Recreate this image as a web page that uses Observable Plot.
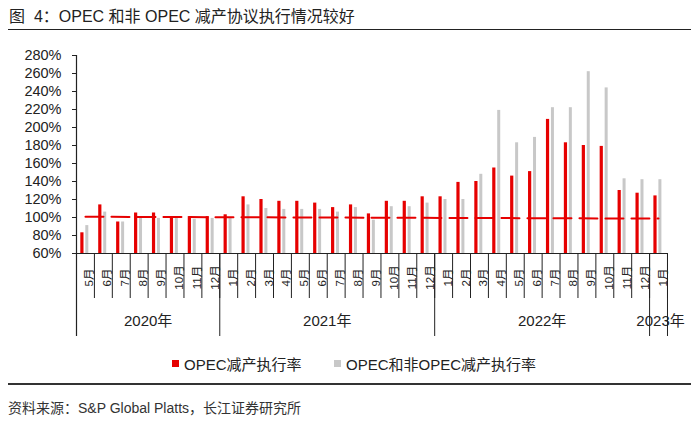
<!DOCTYPE html>
<html><head><meta charset="utf-8">
<script src="https://cdn.jsdelivr.net/npm/d3@7"></script>
<script src="https://cdn.jsdelivr.net/npm/@observablehq/plot@0.6"></script>
<style>
body{margin:0;background:#fff;font-family:"Liberation Sans",Arial,"Noto Sans CJK SC",sans-serif;color:#222;}
#wrap{position:relative;width:693px;height:426px;overflow:hidden;}
#title{position:absolute;left:9px;top:7px;font-size:16px;line-height:20px;white-space:nowrap;}
#tline{position:absolute;left:8px;top:29px;width:683px;border-top:1.5px solid #222;}
#chart{position:absolute;left:0;top:40px;}
#legend{position:absolute;top:354px;left:0;width:693px;height:18px;font-size:15px;}
.item{position:absolute;top:0;display:flex;align-items:center;height:18px;white-space:nowrap;}
.sw{width:7px;height:7px;margin-right:5px;}
#rule{position:absolute;left:8px;top:383px;width:683px;border-top:2px solid #333;}
#source{position:absolute;left:8px;top:399px;font-size:14px;line-height:18px;color:#333;white-space:nowrap;}
</style></head>
<body>
<div id="wrap">
  <div id="title">图&nbsp;&nbsp;4：OPEC 和非 OPEC 减产协议执行情况较好</div>
  <div id="tline"></div>
  <div id="chart"></div>
  <div id="legend">
    <div class="item" style="left:172px"><div class="sw" style="background:#e60000"></div>OPEC减产执行率</div>
    <div class="item" style="left:334px"><div class="sw" style="background:#c8c8c8"></div>OPEC和非OPEC减产执行率</div>
  </div>
  <div id="rule"></div>
  <div id="source">资料来源：S&amp;P Global Platts，长江证券研究所</div>
</div>
<script>
// Months (May 2020 – Jan 2023)
const months = [
  "2020-05","2020-06","2020-07","2020-08","2020-09","2020-10","2020-11","2020-12",
  "2021-01","2021-02","2021-03","2021-04","2021-05","2021-06","2021-07","2021-08","2021-09","2021-10","2021-11","2021-12",
  "2022-01","2022-02","2022-03","2022-04","2022-05","2022-06","2022-07","2022-08","2022-09","2022-10","2022-11","2022-12",
  "2023-01"
];
const monthLabels = [
  "5月","6月","7月","8月","9月","10月","11月","12月",
  "1月","2月","3月","4月","5月","6月","7月","8月","9月","10月","11月","12月",
  "1月","2月","3月","4月","5月","6月","7月","8月","9月","10月","11月","12月",
  "1月"
];
// OPEC减产执行率 (%)
const opecRate = [
  83,114,95,105,105,101,101,101,
  103,123,120,118,118,116,111,114,104,118,118,123,
  123,139,140,155,146,151,209,183,180,179,130,127,
  124
];
// OPEC和非OPEC减产执行率 (%)
const opecNonOpecRate = [
  91,106,95,100,99,100,98,99,
  100,114,110,109,109,109,106,111,97,112,112,116,
  120,120,148,219,183,189,222,222,262,244,143,142,
  142
];
// red dashed reference line (start / end)
const refMonths = ["2020-05","2023-01"];
const refValues = [100.8, 98.8];
// year groups
const yearStarts = ["2020-05","2021-01","2022-01","2023-01"];
const yearLabels = ["2020年","2021年","2022年"];
const yearLabelMonths = ["2020-08","2021-06","2022-06"];
const lastYearLabel = ["2023年"];
const yTicks = [60,80,100,120,140,160,180,200,220,240,260,280];

const RED = "#e60000", GRAY = "#c8c8c8", INK = "#222";
const W = 693, H = 300, mL = 76, mR = 26, mT = 15, mB = 87;
const bw = (W - mL - mR) / months.length;
const frameH = H - mT - mB;

const data = months.map((m, i) => ({m, label: monthLabels[i], opec: opecRate[i], all: opecNonOpecRate[i]}));
const ref = refMonths.map((m, i) => ({m, v: refValues[i]}));
const yl = yearLabelMonths.map((m, i) => ({m, t: yearLabels[i]}));

const chart = Plot.plot({
  width: W, height: H,
  marginTop: mT, marginBottom: mB, marginLeft: mL, marginRight: mR,
  style: {fontFamily: '"Liberation Sans", Arial, "Noto Sans CJK SC", sans-serif', color: INK, background: "transparent"},
  x: {type: "band", domain: months, padding: 0, axis: null},
  y: {domain: [60, 280], axis: null},
  marks: [
    Plot.axisY(yTicks, {tickSize: 4, tickPadding: 11, tickFormat: d => d + "%", fontSize: 14.5, stroke: INK, fill: INK}),
    Plot.barY(data, {x: "m", y1: 60, y2: "all", fill: GRAY, insetLeft: 9.3, insetRight: bw - 12.3}),
    Plot.barY(data, {x: "m", y1: 60, y2: "opec", fill: RED, insetLeft: 4.3, insetRight: bw - 7.5}),
    Plot.lineY(ref, {x: "m", y: "v", stroke: RED, strokeWidth: 2, strokeDasharray: "18,8"}),
    Plot.ruleY([60], {stroke: INK, strokeWidth: 1.2}),
    // month ticks
    Plot.ruleX(data, {x: "m", dx: bw / 2, insetTop: frameH, insetBottom: -45, stroke: INK}),
    // y axis line + year dividers
    Plot.ruleX([months[0]], {x: d => d, dx: -bw / 2, insetBottom: -83, stroke: INK, strokeWidth: 1.2}),
    Plot.ruleX(yearStarts.slice(1), {x: d => d, dx: -bw / 2, insetTop: frameH, insetBottom: -83, stroke: INK}),
    Plot.ruleX([months[months.length - 1]], {x: d => d, dx: bw / 2, insetTop: frameH, insetBottom: -83, stroke: INK}),
    // month labels
    Plot.text(data, {x: "m", text: "label", frameAnchor: "bottom", rotate: -90, dx: bw / 2 - 1, dy: 24, fontSize: 11.5, fill: INK}),
    // year labels
    Plot.text(yl, {x: "m", text: "t", frameAnchor: "bottom", dx: bw / 2, dy: 72, fontSize: 15, fill: INK}),
    Plot.text(lastYearLabel, {x: () => months[months.length - 1], text: d => d, frameAnchor: "bottom", dx: 2, dy: 72, fontSize: 15, fill: INK})
  ]
});
document.getElementById("chart").appendChild(chart);
</script>
</body></html>
